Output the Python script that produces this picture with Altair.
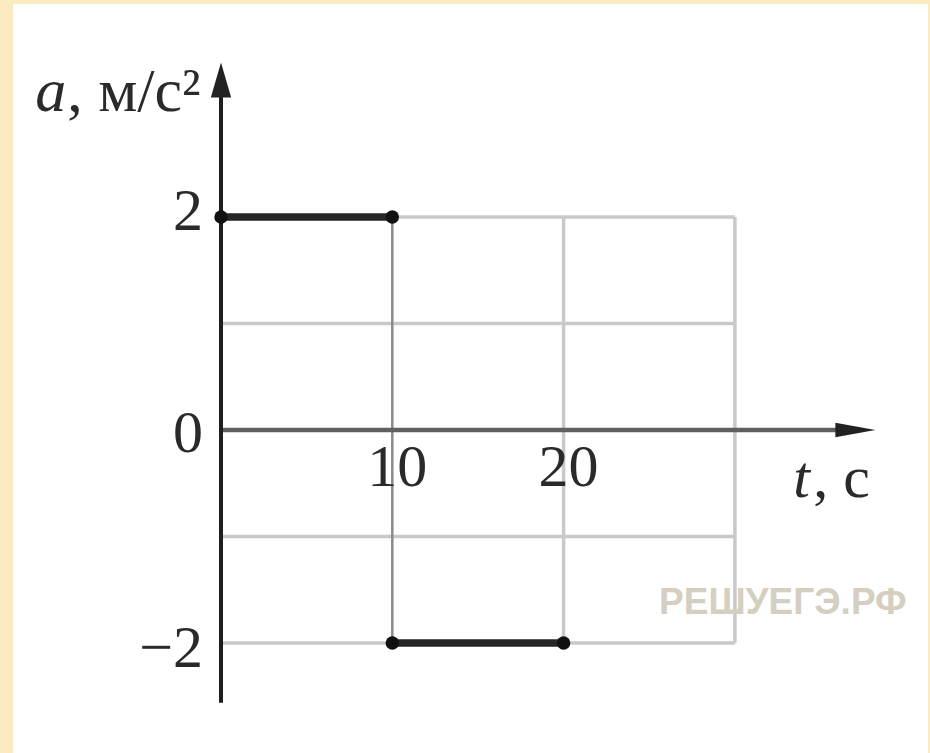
import altair as alt
import pandas as pd

# Acceleration profile a(t): two constant-acceleration stages
t_start = [0, 10]
t_end = [10, 20]
accel = [2, -2]

# Grid lines and tick labels
grid_a = [2, 1, -1, -2]
grid_t = [20, 30]
jump_t = [10]
y_ticks = [2, 0, -2]
y_tick_labels = ["2", "0", "\u22122"]
x_ticks = [10, 20]
x_tick_labels = ["10", "20"]
T_MAX = 30
A_MAX = 2

# Axis extents (arrow tips)
x_axis_end = 38.2
y_axis_start = -2.56
y_axis_end = 3.45

# Canvas geometry: view size and the pixel scale of both axes
W, H = 915, 749
PX_T0, PX_PER_T = 208, 17.13
PY_A0, PX_PER_A = 426, 106.5
x_domain = [-PX_T0 / PX_PER_T, (W - PX_T0) / PX_PER_T]
y_domain = [-(H - PY_A0) / PX_PER_A, PY_A0 / PX_PER_A]

xs = alt.Scale(domain=x_domain, nice=False, zero=False)
ys = alt.Scale(domain=y_domain, nice=False, zero=False)


def X(field):
    return alt.X(field, type="quantitative", scale=xs, axis=None)


def Y(field):
    return alt.Y(field, type="quantitative", scale=ys, axis=None)


SERIF = "Liberation Serif"
GRID = "#c9c9c9"
INK = "#1e1e1e"

# Light grid
h_grid = alt.Chart(pd.DataFrame({"a": grid_a, "t0": 0, "t1": T_MAX})).mark_rule(
    color=GRID, strokeWidth=3.5
).encode(x=X("t0"), x2="t1", y=Y("a"))

v_grid = alt.Chart(pd.DataFrame({"t": grid_t, "a0": -A_MAX, "a1": A_MAX})).mark_rule(
    color=GRID, strokeWidth=3.5
).encode(x=X("t"), y=Y("a0"), y2="a1")

# Line at the switching moment
v_jump = alt.Chart(pd.DataFrame({"t": jump_t, "a0": -A_MAX, "a1": A_MAX})).mark_rule(
    color="#8a8a8a", strokeWidth=2.5
).encode(x=X("t"), y=Y("a0"), y2="a1")

# Coordinate axes
x_axis = alt.Chart(pd.DataFrame({"t0": [0], "t1": [x_axis_end - 1.5], "a": [0]})).mark_rule(
    color="#606060", strokeWidth=4.5
).encode(x=X("t0"), x2="t1", y=Y("a"))

y_axis = alt.Chart(pd.DataFrame({"t": [0], "a0": [y_axis_start], "a1": [y_axis_end - 0.2]})).mark_rule(
    color=INK, strokeWidth=4
).encode(x=X("t"), y=Y("a0"), y2="a1")

x_arrow = alt.Chart(pd.DataFrame({"t": [x_axis_end], "a": [0]})).mark_point(
    shape="M0,0L-2,-0.36L-2,0.36Z", size=1600, filled=True, color="#222222", opacity=1, strokeWidth=0
).encode(x=X("t"), y=Y("a"))

y_arrow = alt.Chart(pd.DataFrame({"t": [0], "a": [y_axis_end]})).mark_point(
    shape="M0,0L0.58,2L-0.58,2Z", size=1225, filled=True, color="#222222", opacity=1, strokeWidth=0
).encode(x=X("t"), y=Y("a"))

# Acceleration segments with their end points
seg_df = pd.DataFrame({"t0": t_start, "t1": t_end, "a": accel})
segments = alt.Chart(seg_df).mark_rule(color="#262626", strokeWidth=7.5).encode(
    x=X("t0"), x2="t1", y=Y("a")
)
pts_df = pd.DataFrame({"t": t_start + t_end, "a": accel + accel})
points = alt.Chart(pts_df).mark_circle(color="#111111", size=180, opacity=1).encode(
    x=X("t"), y=Y("a")
)

# Tick labels
y_label_dy = [13, 22, 24]
y_labels = [
    alt.Chart(pd.DataFrame({"t": [0], "a": [v], "s": [s]})).mark_text(
        font=SERIF, fontSize=60, color="#2a2a2a", align="right", baseline="alphabetic",
        dx=-18, dy=dy
    ).encode(x=X("t"), y=Y("a"), text="s:N")
    for v, s, dy in zip(y_ticks, y_tick_labels, y_label_dy)
]

x_labels = alt.Chart(pd.DataFrame({"t": x_ticks, "a": 0, "s": x_tick_labels})).mark_text(
    font=SERIF, fontSize=60, color="#2a2a2a", align="center", baseline="alphabetic", dx=5, dy=56
).encode(x=X("t"), y=Y("a"), text="s:N")

# Axis titles: italic symbol followed by upright unit
a_sym = alt.Chart(pd.DataFrame({"t": [-10.85], "a": [3.0], "s": ["a"]})).mark_text(
    font=SERIF, fontSize=62, fontStyle="italic", color="#2a2a2a", align="left", baseline="alphabetic"
).encode(x=X("t"), y=Y("a"), text="s:N")
a_unit = alt.Chart(pd.DataFrame({"t": [-10.85], "a": [3.0], "s": [", м/с²"]})).mark_text(
    font=SERIF, fontSize=62, color="#2a2a2a", align="left", baseline="alphabetic", dx=32
).encode(x=X("t"), y=Y("a"), text="s:N")

t_sym = alt.Chart(pd.DataFrame({"t": [33.4], "a": [-0.63], "s": ["t"]})).mark_text(
    font=SERIF, fontSize=60, fontStyle="italic", color="#2a2a2a", align="left", baseline="alphabetic"
).encode(x=X("t"), y=Y("a"), text="s:N")
t_unit = alt.Chart(pd.DataFrame({"t": [33.4], "a": [-0.63], "s": [", с"]})).mark_text(
    font=SERIF, fontSize=60, color="#2a2a2a", align="left", baseline="alphabetic", dx=20
).encode(x=X("t"), y=Y("a"), text="s:N")

# Site mark
site = alt.Chart(pd.DataFrame({"t": [32.8], "a": [-1.62], "s": ["РЕШУЕГЭ.РФ"]})).mark_text(
    font="Liberation Sans", fontSize=37, fontWeight="bold", color="#d4cfc0",
    align="center", baseline="middle"
).encode(x=X("t"), y=Y("a"), text="s:N")

chart = alt.layer(
    h_grid, v_grid, v_jump, x_axis, y_axis, x_arrow, y_arrow,
    segments, points, *y_labels, x_labels, a_sym, a_unit, t_sym, t_unit, site
).properties(
    width=W, height=H,
    padding={"left": 13, "top": 4, "right": 2, "bottom": 0},
    autosize="none",
    background="#fcebc1",
).configure_view(fill="white", strokeWidth=0)

chart.save("out.html", embed_options={"renderer": "svg", "actions": False})
